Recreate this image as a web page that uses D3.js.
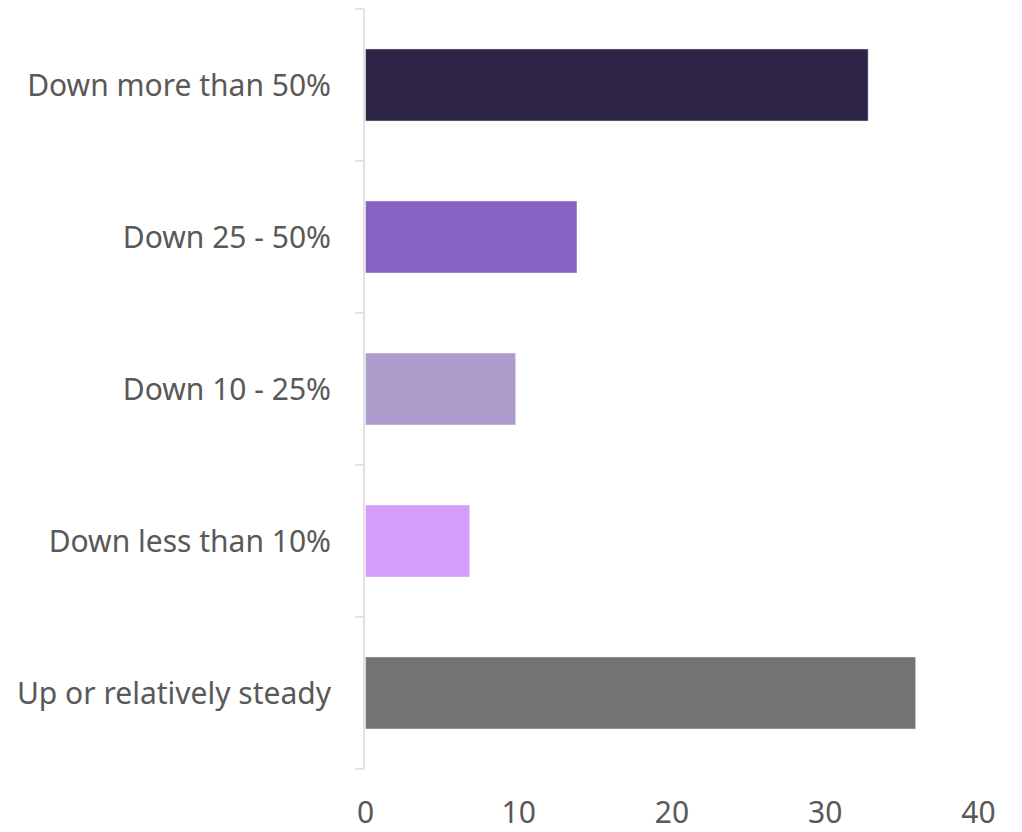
<!DOCTYPE html>
<html>
<head>
<meta charset="utf-8">
<script src="https://cdn.jsdelivr.net/npm/d3@7"></script>
<style>
  body { margin: 0; background: #fff; }
  text { font-family: "Noto Sans", "Open Sans", sans-serif; fill: #595959; }
</style>
</head>
<body>
<div id="chart"></div>
<script>
const categories = ["Down more than 50%", "Down 25 - 50%", "Down 10 - 25%", "Down less than 10%", "Up or relatively steady"];
const values = [32.8, 13.8, 9.8, 6.8, 35.9];
const colors = ["#2e2445", "#8662c4", "#ad9ccb", "#d59cfc", "#737373"];
const xTicks = [0, 10, 20, 30, 40];

const width = 1022, height = 832;
const svg = d3.select("#chart").append("svg").attr("width", width).attr("height", height);

const x = d3.scaleLinear().domain([0, 40]).range([365.5, 978.5]);
const y = d3.scaleBand().domain(categories).range([9, 769]).paddingInner(0.526).paddingOuter(0.263);

// bars
svg.selectAll("rect.bar")
  .data(values)
  .enter()
  .append("rect")
  .attr("class", "bar")
  .attr("x", x(0))
  .attr("y", (d, i) => y(categories[i]))
  .attr("width", (d) => x(d) - x(0))
  .attr("height", y.bandwidth())
  .attr("fill", (d, i) => colors[i])
  .attr("stroke", "rgba(255,255,255,0.45)")
  .attr("stroke-width", 1);

// y axis line + ticks between categories
const axisX = 364;
svg.append("line")
  .attr("x1", axisX).attr("x2", axisX)
  .attr("y1", 9).attr("y2", 769)
  .attr("stroke", "#d9d9d9").attr("stroke-width", 1.5);

const boundaries = categories.map((c) => y(c) - (y.step() * y.paddingInner()) / 2).concat([769]);
svg.selectAll("line.tick")
  .data(boundaries)
  .enter()
  .append("line")
  .attr("class", "tick")
  .attr("x1", axisX - 9).attr("x2", axisX)
  .attr("y1", (d) => d).attr("y2", (d) => d)
  .attr("stroke", "#d9d9d9").attr("stroke-width", 1.5);

// category labels
svg.selectAll("text.cat")
  .data(categories)
  .enter()
  .append("text")
  .attr("class", "cat")
  .attr("x", 331)
  .attr("y", (d) => y(d) + y.bandwidth() / 2)
  .attr("dy", "0.36em")
  .attr("text-anchor", "end")
  .style("font-size", "30px")
  .text((d) => d);

// x tick labels
svg.selectAll("text.xt")
  .data(xTicks)
  .enter()
  .append("text")
  .attr("class", "xt")
  .attr("x", (d) => x(d))
  .attr("y", 823)
  .attr("text-anchor", "middle")
  .style("font-size", "30px")
  .text((d) => d);
</script>
</body>
</html>
